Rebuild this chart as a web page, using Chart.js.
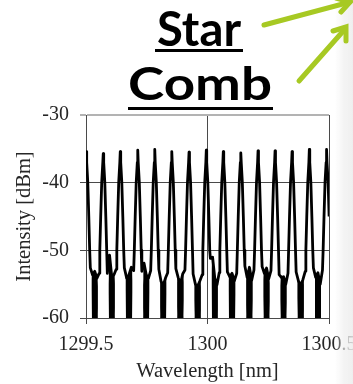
<!DOCTYPE html>
<html>
<head>
<meta charset="utf-8">
<script src="https://cdn.jsdelivr.net/npm/chart.js@4"></script>
<style>
  html, body { margin: 0; padding: 0; background: #fff; }
  body { width: 353px; height: 384px; overflow: hidden; position: relative; }
  #combChart { position: absolute; left: 0; top: 0; }
  #deco { position: absolute; left: 0; top: 0; pointer-events: none; }
</style>
</head>
<body>
<canvas id="combChart" width="380" height="384"></canvas>
<svg id="deco" width="353" height="384" viewBox="0 0 353 384">
  <defs>
    <linearGradient id="edge" x1="0" y1="0" x2="1" y2="0">
      <stop offset="0" stop-color="#efefef" stop-opacity="0"/>
      <stop offset="0.5" stop-color="#efefef" stop-opacity="0.7"/>
      <stop offset="1" stop-color="#ececec" stop-opacity="0.85"/>
    </linearGradient>
  </defs>
  <rect x="335" y="0" width="18" height="384" fill="url(#edge)"/>
  <g font-family="Lato, 'Open Sans', sans-serif" font-weight="700" fill="#000" text-anchor="middle">
    <text x="199" y="46" font-size="48" textLength="84" lengthAdjust="spacingAndGlyphs">Star</text>
    <text x="200" y="100" font-size="46" textLength="144" lengthAdjust="spacingAndGlyphs">Comb</text>
  </g>
  <rect x="155" y="49" width="88" height="3" fill="#000"/>
  <rect x="128" y="107" width="145" height="3" fill="#000"/>
  <g stroke="#a7c923" stroke-width="5" stroke-linecap="round" fill="none">
    <line x1="264" y1="25" x2="350" y2="2"/>
    <polyline points="336,-2 350,2 341,12"/>
    <line x1="299" y1="81" x2="345" y2="29"/>
    <polyline points="333,31 346,27 346,41"/>
  </g>
</svg>
<script>
// comb line centres and their peak power
const peakNm = [1299.501, 1299.571, 1299.641, 1299.713, 1299.783, 1299.853, 1299.924, 1299.995,
                1300.065, 1300.137, 1300.208, 1300.278, 1300.348, 1300.419, 1300.490];
const peakDbm = [-35.4, -35.7, -35.4, -35.2, -35.1, -35.4, -35.5, -35.2,
                 -35.4, -35.6, -35.3, -35.3, -35.4, -35.1, -35.1];

// line flank: offset from centre (nm) and level (dBm)
const legOffsetNm = [0.0018, 0.0064, 0.0105, 0.0142];
const legDbm = [-37, -40, -45, -50];
const footNm = 0.0168;      // where the flank meets the noise
const floorFootNm = 0.023;  // where the flank reaches the -60 dBm floor

// noise floor top between neighbouring lines, left to right
const valleyTop = [
  [-52.6, -53.6, -53.1, -54.1, -53.4],
  [-53.4, -50.7, -53.9, -53.6, -52.8],
  [-52.6, -54.1, -53.6, -52.5, -53.0],
  [-53.1, -51.9, -53.6, -54.1, -53.0],
  [-52.8, -54.6, -55.1, -54.1, -53.3],
  [-52.7, -54.0, -55.0, -53.5, -52.9],
  [-53.5, -55.0, -55.3, -54.5, -53.6],
  [-51.2, -51.0, -54.1, -55.1, -53.3],
  [-53.2, -53.9, -53.4, -54.5, -53.4],
  [-52.3, -54.0, -52.5, -54.4, -52.9],
  [-52.4, -53.4, -52.6, -54.2, -53.0],
  [-53.6, -54.0, -53.9, -55.0, -53.4],
  [-53.2, -54.5, -55.2, -54.3, -53.1],
  [-52.6, -54.0, -53.3, -55.0, -52.9]
];

const xTicks = [1299.5, 1300, 1300.5];
const xTickLabels = ['1299.5', '1300', '1300.5'];
const yTicks = [-60, -50, -40, -30];
const yTickLabels = ['-60', '-50', '-40', '-30'];

// build the trace and the filled noise floor
const trace = [];
const floorFill = [];
peakNm.forEach((c, i) => {
    if (i === 0) trace.push({x: c - footNm, y: -53});
    for (let k = legOffsetNm.length - 1; k >= 0; k--) {
        trace.push({x: c - legOffsetNm[k], y: legDbm[k]});
    }
    trace.push({x: c, y: peakDbm[i]});
    legOffsetNm.forEach((o, k) => trace.push({x: c + o, y: legDbm[k]}));

    const v = valleyTop[i];
    if (!v) {
        trace.push({x: c + footNm, y: -53});
        return;
    }
    const next = peakNm[i + 1];
    const a = c + footNm, b = next - footNm;
    const pts = v.map((y, j) => ({x: a + (b - a) * j / (v.length - 1), y}));
    trace.push(...pts);
    floorFill.push({x: c + floorFootNm, y: -60}, ...pts, {x: next - floorFootNm, y: -60});
    floorFill.push({x: (a + b) / 2 + 0.0001, y: null});
});

const serif = "'Liberation Serif', 'Times New Roman', serif";
const gridDark = '#4a4a4a';
const textColor = '#262626';

new Chart(document.getElementById('combChart'), {
    type: 'line',
    data: {
        datasets: [{
            data: trace,
            borderColor: '#000',
            borderWidth: 2.8,
            borderJoinStyle: 'round',
            pointRadius: 0,
            tension: 0,
            fill: false,
            clip: 0
        }, {
            data: floorFill,
            borderWidth: 0,
            backgroundColor: '#000',
            pointRadius: 0,
            tension: 0,
            spanGaps: false,
            fill: {value: -60},
            clip: 0
        }]
    },
    options: {
        responsive: false,
        animation: false,
        devicePixelRatio: 1,
        layout: { padding: { left: 0, top: 115, right: 51, bottom: 0 } },
        plugins: { legend: { display: false }, tooltip: { enabled: false } },
        scales: {
            x: {
                type: 'linear',
                min: 1299.5,
                max: 1300.5,
                afterBuildTicks: s => { s.ticks = xTicks.map(v => ({value: v})); },
                afterFit: s => { s.height = 66; },
                ticks: {
                    autoSkip: false,
                    maxRotation: 0,
                    padding: 9,
                    color: textColor,
                    font: { family: serif, size: 20 },
                    callback: (v, i) => xTickLabels[i]
                },
                grid: { color: gridDark, lineWidth: 1, tickLength: 6 },
                border: { color: gridDark, width: 1 },
                title: {
                    display: true,
                    text: 'Wavelength [nm]',
                    color: textColor,
                    font: { family: serif, size: 20.5 },
                    padding: { top: 0, bottom: 0 }
                }
            },
            y: {
                min: -60,
                max: -30,
                afterBuildTicks: s => { s.ticks = yTicks.map(v => ({value: v})); },
                afterFit: s => { s.width = 86; },
                ticks: {
                    padding: 11,
                    color: textColor,
                    font: { family: serif, size: 20 },
                    callback: (v, i) => yTickLabels[i]
                },
                grid: {
                    color: c => c.tick && c.tick.value === -30 ? '#b3b3b3' : gridDark,
                    lineWidth: c => c.tick && c.tick.value === -30 ? 2 : 1,
                    tickLength: 6
                },
                border: { color: gridDark, width: 1 },
                title: {
                    display: true,
                    text: 'Intensity [dBm]',
                    color: textColor,
                    font: { family: serif, size: 20.5 },
                    padding: { top: 12, bottom: 0 }
                }
            }
        }
    }
});
</script>
</body>
</html>
